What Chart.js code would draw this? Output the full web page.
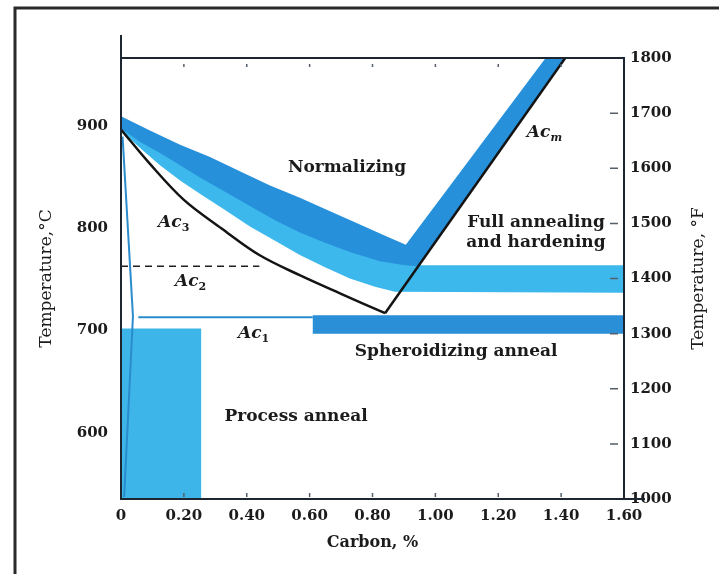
<!DOCTYPE html>
<html>
<head>
<meta charset="utf-8">
<title>Heat treatment temperature ranges for carbon steels</title>
<script src="https://cdn.jsdelivr.net/npm/chart.js@4.4.1/dist/chart.umd.min.js"></script>
<style>
  html, body { margin: 0; padding: 0; background: #fff; }
  #wrap { position: relative; width: 719px; height: 574px; }
</style>
</head>
<body>
<div id="wrap"><canvas id="chart"></canvas></div>
<script>
'use strict';

// Axis ticks.
const carbonTicks = [0, 0.2, 0.4, 0.6, 0.8, 1.0, 1.2, 1.4, 1.6];
const celsiusTicks = [600, 700, 800, 900];
const fahrenheitTicks = [1000, 1100, 1200, 1300, 1400, 1500, 1600, 1700, 1800];

// Critical lines (carbon %, temperature °C).
const ac3Carbon = [0, 0.09, 0.20, 0.32, 0.44, 0.57, 0.70, 0.84];
const ac3Temp = [897, 864, 828, 800, 774, 754, 736, 717];
const acmCarbon = [0.84, 1.42];
const acmTemp = [717, 970];
const ac2Carbon = [0, 0.44];
const ac2Temp = [763, 763];
const ac1Carbon = [0.055, 0.61];
const ac1Temp = [713, 713];
const edgeCarbon = [0.005, 0.038, 0.01];
const edgeTemp = [890, 714, 537];

// Normalizing range: upper edge, Acm band, back along its lower edge.
const normalizingCarbon = [
  0, 0.092, 0.188, 0.283, 0.378, 0.474, 0.569, 0.665, 0.760, 0.840, 0.906,
  1.358, 1.42, 0.945,
  0.903, 0.824, 0.728, 0.649, 0.569, 0.490, 0.410, 0.331, 0.251, 0.188, 0.124, 0.060, 0,
];
const normalizingTemp = [
  910, 896, 882, 870, 856, 842, 830, 817, 804, 793, 784,
  970, 970, 763,
  764, 768, 777, 786, 796, 808, 822, 836, 850, 862, 874, 885, 898,
];

// Full annealing range: hidden top edge, then its lower edge back to 0 %.
const fullAnnealCarbon = [
  0, 0.188, 0.378, 0.569, 0.760, 0.840, 0.93, 1.6,
  1.6, 0.871, 0.808, 0.728, 0.649, 0.569, 0.490, 0.410, 0.331, 0.251, 0.188, 0.124, 0.060, 0,
];
const fullAnnealTemp = [
  905, 880, 854, 828, 802, 792, 764, 764,
  737, 738, 743, 751, 762, 774, 788, 802, 818, 834, 847, 862, 879, 896,
];
const spheroidCarbon = [0.61, 1.6, 1.6, 0.61];
const spheroidTemp = [715, 715, 697, 697];
const processCarbon = [0, 0.255, 0.255, 0];
const processTemp = [702, 702, 520, 520];

const FONT = 'DejaVu Serif';
const INK = '#1b1b1b';

function pts(xs, ys) {
  return xs.map((x, i) => ({x: x, y: ys[i]}));
}

function area(data, color, order) {
  return {
    data: data,
    showLine: true,
    borderWidth: 0,
    pointRadius: 0,
    backgroundColor: color,
    fill: 'shape',
    order: order,
  };
}

function line(data, color, width, dash, order, tension) {
  return {
    data: data,
    showLine: true,
    borderColor: color,
    borderWidth: width,
    borderDash: dash || [],
    pointRadius: 0,
    tension: tension || 0,
    fill: false,
    order: order,
  };
}

// Region names and critical line labels, placed in data units.
const regionLabels = [
  {text: 'Normalizing', x: 0.719, y: 860},
  {text: 'Full annealing', x: 1.32, y: 806},
  {text: 'and hardening', x: 1.32, y: 786},
  {text: 'Spheroidizing anneal', x: 1.066, y: 679},
  {text: 'Process anneal', x: 0.557, y: 616},
];
const criticalLabels = [
  {sub: 'm', x: 1.291, y: 890},
  {sub: '3', x: 0.118, y: 801},
  {sub: '2', x: 0.172, y: 744},
  {sub: '1', x: 0.372, y: 693},
];

const decorations = {
  id: 'decorations',
  beforeDraw(chart) {
    const ctx = chart.ctx;
    ctx.save();
    ctx.fillStyle = '#fff';
    ctx.fillRect(0, 0, chart.width, chart.height);
    // scanned page frame
    ctx.strokeStyle = '#2a2a2a';
    ctx.lineWidth = 3;
    ctx.beginPath();
    ctx.moveTo(15, chart.height);
    ctx.lineTo(15, 8);
    ctx.lineTo(chart.width, 8);
    ctx.stroke();
    ctx.restore();
  },
  afterDatasetsDraw(chart) {
    const {ctx, chartArea: a, scales} = chart;
    ctx.save();
    ctx.strokeStyle = '#1d2630';
    ctx.lineWidth = 2;
    ctx.beginPath();
    ctx.moveTo(a.left, 35);
    ctx.lineTo(a.left, a.bottom);
    ctx.lineTo(a.right + 21, a.bottom);
    ctx.moveTo(a.left, a.top);
    ctx.lineTo(a.right, a.top);
    ctx.lineTo(a.right, a.bottom);
    ctx.stroke();

    // small inside tick marks
    ctx.lineWidth = 1.5;
    ctx.strokeStyle = '#55606a';
    ctx.beginPath();
    carbonTicks.slice(1, -1).forEach(v => {
      const px = scales.x.getPixelForValue(v);
      ctx.moveTo(px, a.top + 6);
      ctx.lineTo(px, a.top + 9);
      ctx.moveTo(px, a.bottom - 6);
      ctx.lineTo(px, a.bottom - 2);
    });
    fahrenheitTicks.slice(1, -1).forEach(v => {
      const py = scales.yF.getPixelForValue(v);
      ctx.moveTo(a.right - 14, py);
      ctx.lineTo(a.right - 6, py);
    });
    ctx.stroke();
    ctx.restore();
  },
  afterDraw(chart) {
    const {ctx, scales} = chart;
    ctx.save();
    ctx.fillStyle = INK;
    ctx.textAlign = 'center';
    ctx.textBaseline = 'middle';
    ctx.font = 'bold 17px "' + FONT + '"';
    regionLabels.forEach(l => {
      ctx.fillText(l.text, scales.x.getPixelForValue(l.x), scales.y.getPixelForValue(l.y));
    });

    ctx.textAlign = 'left';
    ctx.textBaseline = 'alphabetic';
    criticalLabels.forEach(l => {
      const px = scales.x.getPixelForValue(l.x);
      const py = scales.y.getPixelForValue(l.y);
      ctx.font = 'italic bold 17px "' + FONT + '"';
      ctx.fillText('Ac', px, py);
      const w = ctx.measureText('Ac').width;
      ctx.font = (l.sub === 'm' ? 'italic ' : '') + 'bold 11px "' + FONT + '"';
      ctx.fillText(l.sub, px + w, py + 4);
    });

    // right axis title reads bottom to top like the left one
    ctx.font = '17px "' + FONT + '"';
    ctx.textAlign = 'center';
    ctx.textBaseline = 'middle';
    ctx.translate(699, (chart.chartArea.top + chart.chartArea.bottom) / 2);
    ctx.rotate(-Math.PI / 2);
    ctx.fillText('Temperature, \u00b0F', 0, 0);
    ctx.restore();
  },
};

const tickFont = {family: FONT, size: 15, weight: 'bold'};

new Chart(document.getElementById('chart'), {
  type: 'scatter',
  data: {
    datasets: [
      line(pts(ac3Carbon, ac3Temp), '#141414', 2.5, null, 1, 0.35),
      line(pts(acmCarbon, acmTemp), '#141414', 2.5, null, 1),
      line(pts(ac2Carbon, ac2Temp), '#202020', 1.5, [7, 5], 1),
      line(pts(ac1Carbon, ac1Temp), '#2a8ccc', 2, null, 2),
      line(pts(edgeCarbon, edgeTemp), '#2a8ccc', 2, null, 2),
      area(pts(spheroidCarbon, spheroidTemp), '#2a8fd6', 5),
      area(pts(normalizingCarbon, normalizingTemp), '#2690db', 6),
      area(pts(fullAnnealCarbon, fullAnnealTemp), '#3cb8ec', 7),
      area(pts(processCarbon, processTemp), '#3db5e8', 8),
    ],
  },
  options: {
    responsive: true,
    maintainAspectRatio: false,
    animation: false,
    events: [],
    layout: {padding: {top: 58, left: 0, right: 0, bottom: 0}},
    plugins: {
      legend: {display: false},
      tooltip: {enabled: false},
    },
    scales: {
      x: {
        type: 'linear',
        position: 'bottom',
        min: 0,
        max: 1.6,
        afterBuildTicks: s => { s.ticks = carbonTicks.map(v => ({value: v})); },
        afterFit: s => { s.height = 75; },
        grid: {display: false, drawTicks: false},
        border: {display: false},
        ticks: {
          padding: 8,
          color: INK,
          autoSkip: false,
          maxRotation: 0,
          font: tickFont,
          callback: v => (v === 0 ? '0' : v.toFixed(2)),
        },
        title: {
          display: true,
          text: 'Carbon, %',
          color: INK,
          font: {family: FONT, size: 16, weight: 'bold'},
          padding: {top: 0, bottom: 22},
        },
      },
      y: {
        type: 'linear',
        position: 'left',
        min: 535,
        max: 967,
        afterBuildTicks: s => { s.ticks = celsiusTicks.map(v => ({value: v})); },
        afterFit: s => { s.width = 121; },
        grid: {display: false, drawTicks: false},
        border: {display: false},
        ticks: {padding: 13, color: INK, font: tickFont},
        title: {
          display: true,
          text: 'Temperature,\u00b0C',
          color: INK,
          font: {family: FONT, size: 17},
          padding: {top: 36, bottom: 0},
        },
      },
      yF: {
        type: 'linear',
        position: 'right',
        min: 1000,
        max: 1800,
        afterBuildTicks: s => { s.ticks = fahrenheitTicks.map(v => ({value: v})); },
        afterFit: s => { s.width = 95; },
        grid: {display: false, drawTicks: false},
        border: {display: false},
        ticks: {padding: 6, color: INK, font: tickFont, callback: v => String(v)},
      },
    },
  },
  plugins: [decorations],
});
</script>
</body>
</html>
